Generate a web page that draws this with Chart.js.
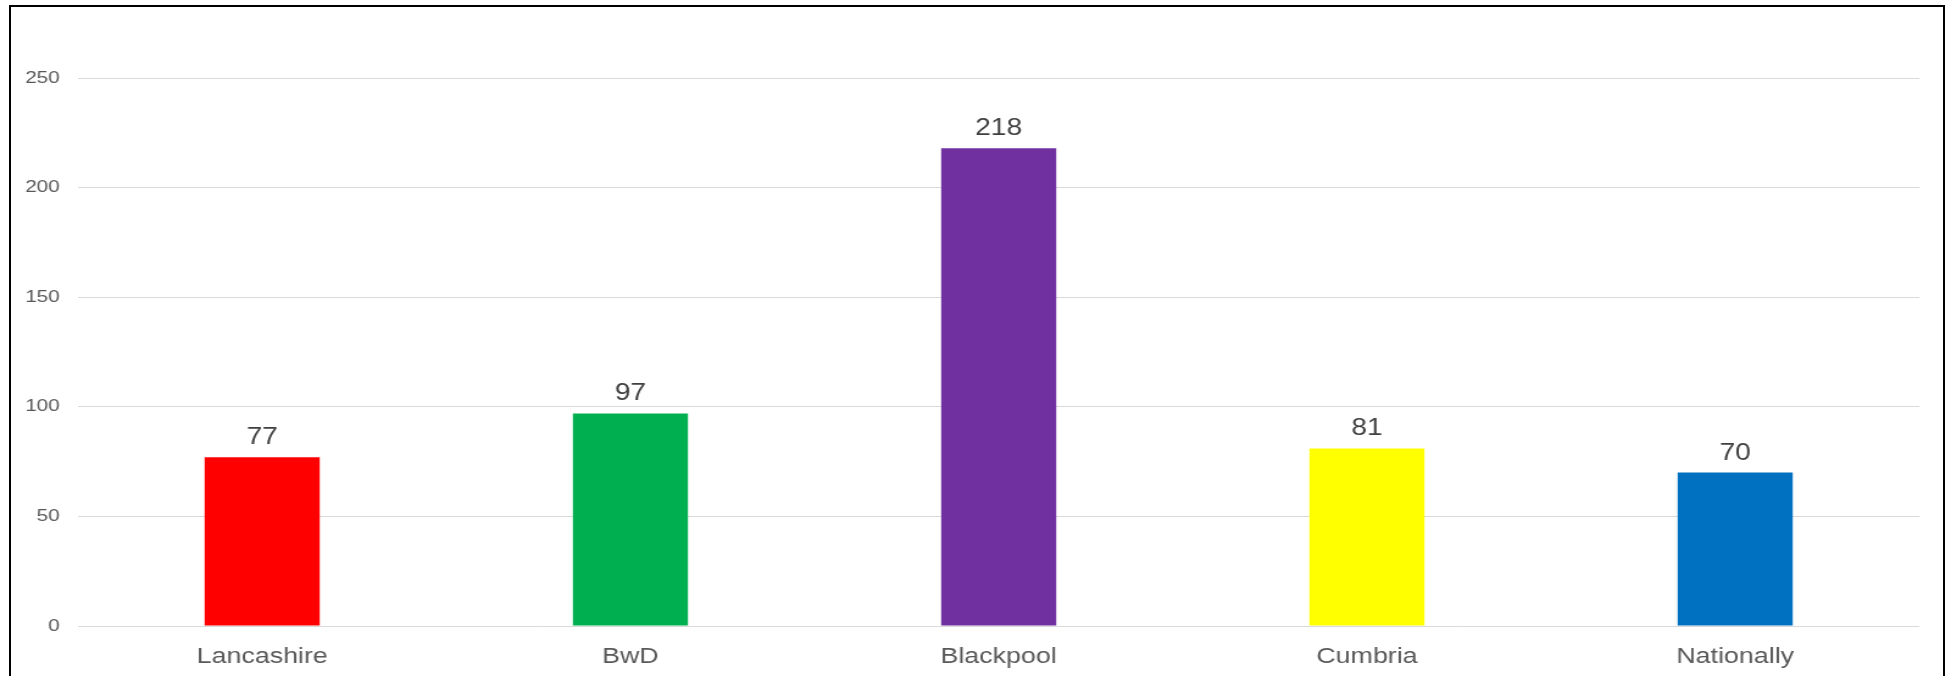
<!DOCTYPE html>
<html>
<head>
<meta charset="utf-8">
<script src="https://cdn.jsdelivr.net/npm/chart.js@4.4.1/dist/chart.umd.min.js"></script>
<style>
  html, body { margin: 0; padding: 0; background: #fff; overflow: hidden; }
  #page { position: relative; width: 1951px; height: 676px; }
  /* the source image is stretched sideways, so draw narrow and scale */
  #stretch {
    position: absolute; left: 0; top: 0;
    width: 1600px; height: 676px;
    transform: scaleX(1.219375); transform-origin: 0 0;
  }
  #frame {
    position: absolute; left: 9px; top: 5px;
    width: 1932px; height: 720px;
    border: 2px solid #000; border-bottom: none;
    pointer-events: none;
  }
</style>
</head>
<body>
<div id="page">
  <div id="stretch"><canvas id="chart" width="1600" height="676"></canvas></div>
  <div id="frame"></div>
</div>
<script>
/* ======================================================
   DATA
====================================================== */

const categories = ['Lancashire', 'BwD', 'Blackpool', 'Cumbria', 'Nationally'];
const values     = [77, 97, 218, 81, 70];
const barColors  = ['#FF0000', '#00B050', '#7030A0', '#FFFF00', '#0070C0'];
const yTicks     = [0, 50, 100, 150, 200, 250];

const FONT = "'Liberation Sans', Arial, sans-serif";

/* ======================================================
   VALUE LABELS ABOVE BARS
====================================================== */

const valueLabels = {
  id: 'valueLabels',
  afterDatasetsDraw(chart) {
    const ctx = chart.ctx;
    const meta = chart.getDatasetMeta(0);
    ctx.save();
    ctx.font = '23px ' + FONT;
    ctx.fillStyle = '#404040';
    ctx.textAlign = 'center';
    ctx.textBaseline = 'alphabetic';
    meta.data.forEach((bar, i) => {
      ctx.fillText(String(values[i]), bar.x, bar.y - 13);
    });
    ctx.restore();
  }
};

/* ======================================================
   CHART
====================================================== */

new Chart(document.getElementById('chart'), {
  type: 'bar',
  data: {
    labels: categories,
    datasets: [{
      data: values,
      backgroundColor: barColors,
      borderWidth: 0,
      categoryPercentage: 1,
      barPercentage: 0.3125
    }]
  },
  options: {
    responsive: false,
    animation: false,
    devicePixelRatio: 1,
    layout: { padding: { top: 78, right: 26, bottom: 0, left: 0 } },
    plugins: {
      legend: { display: false },
      tooltip: { enabled: false }
    },
    scales: {
      y: {
        min: 0,
        max: 250,
        afterBuildTicks: axis => { axis.ticks = yTicks.map(v => ({ value: v })); },
        afterFit: axis => { axis.width = 64; },
        grid: { color: '#D9D9D9', lineWidth: 1, drawTicks: false },
        border: { display: false },
        ticks: {
          padding: 15,
          color: '#595959',
          font: { family: FONT, size: 17 }
        }
      },
      x: {
        afterFit: axis => { axis.height = 50; },
        grid: { display: false, drawTicks: false },
        border: { display: false },
        ticks: {
          padding: 18,
          color: '#595959',
          font: { family: FONT, size: 22 }
        }
      }
    }
  },
  plugins: [valueLabels]
});
</script>
</body>
</html>
